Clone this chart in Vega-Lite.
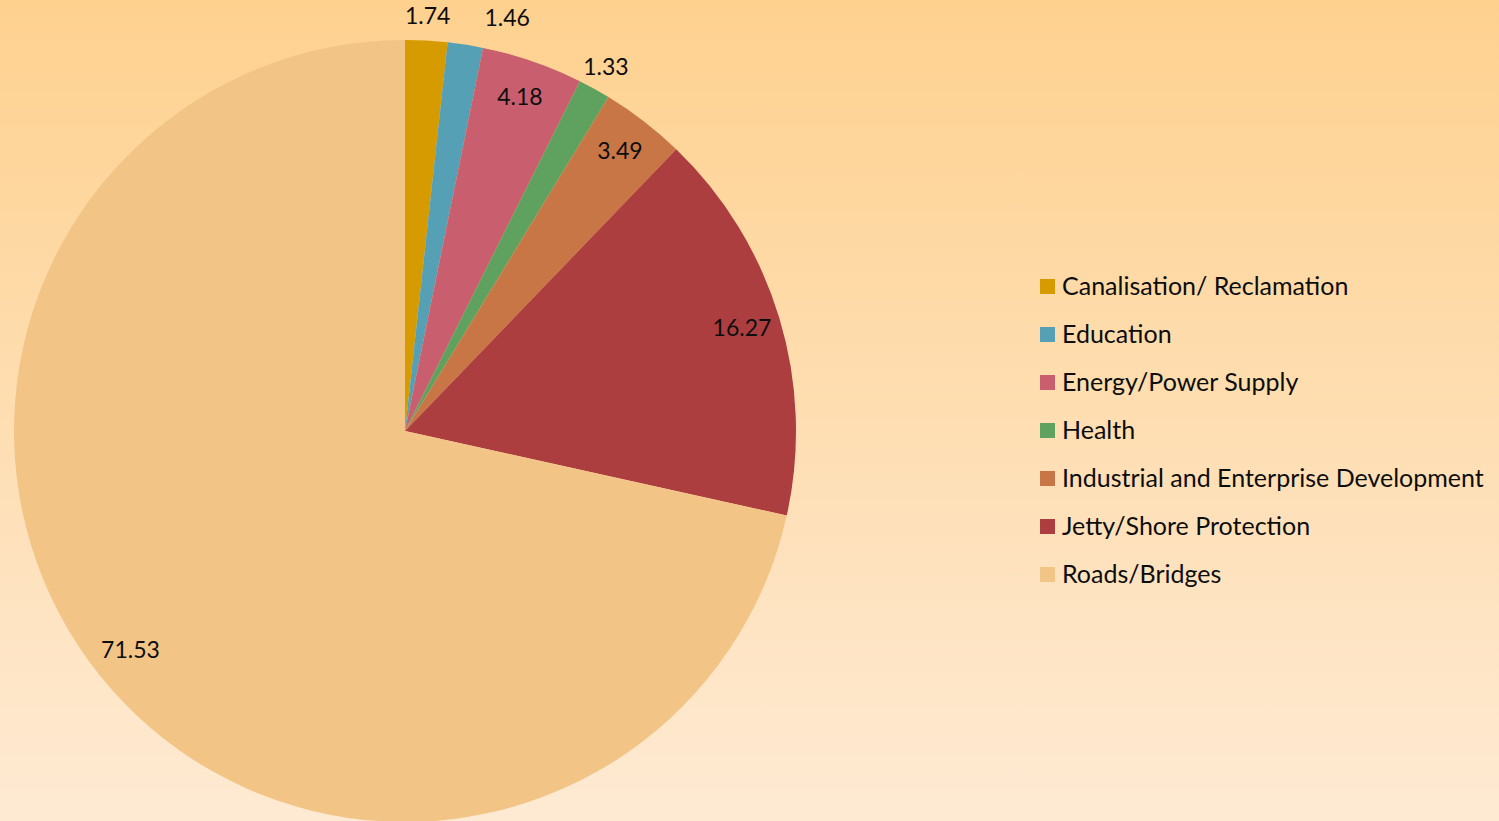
{
  "$schema": "https://vega.github.io/schema/vega-lite/v6.json",
  "padding": 0,
  "autosize": {"type": "pad"},
  "background": "#FFDDAF",
  "spacing": 0,
  "bounds": "flush",
  "data": {"values": [
    {"category": "Canalisation/ Reclamation", "value": 1.74},
    {"category": "Education", "value": 1.46},
    {"category": "Energy/Power Supply", "value": 4.18},
    {"category": "Health", "value": 1.33},
    {"category": "Industrial and Enterprise Development", "value": 3.49},
    {"category": "Jetty/Shore Protection", "value": 16.27},
    {"category": "Roads/Bridges", "value": 71.53}
  ]},
  "resolve": {"legend": {"color": "independent"}},
  "hconcat": [
    {
      "width": 810,
      "height": 862,
      "layer": [
        {
          "data": {"values": [{"bg": 1}]},
          "mark": {"type": "rect", "color": {"gradient": "linear", "x1": 0, "y1": 0, "x2": 0, "y2": 1,
            "stops": [{"offset": 0, "color": "#FED18F"}, {"offset": 0.952, "color": "#FEEAD3"}, {"offset": 1, "color": "#FEEBD5"}]}},
          "encoding": {}
        },
        {
          "mark": {"type": "arc", "outerRadius": 391},
          "encoding": {
            "theta": {"field": "value", "type": "quantitative", "stack": true},
            "order": {"field": "category", "type": "nominal", "sort": "ascending"},
            "color": {"field": "category", "type": "nominal",
              "scale": {"domain": ["Canalisation/ Reclamation", "Education", "Energy/Power Supply", "Health", "Industrial and Enterprise Development", "Jetty/Shore Protection", "Roads/Bridges"],
                        "range": ["#D59B00", "#55A0B5", "#C95F6E", "#5FA25F", "#C97647", "#AC3E40", "#F2C587"]},
              "legend": null}
          }
        },
        {
          "mark": {"type": "text", "radius": 352, "font": "Lato", "fontSize": 23, "color": "#0D0D0D", "align": "center", "baseline": "middle"},
          "encoding": {
            "theta": {"field": "value", "type": "quantitative", "stack": true},
            "order": {"field": "category", "type": "nominal", "sort": "ascending"},
            "detail": {"field": "category", "type": "nominal"},
            "text": {"condition": {"test": "datum.value > 2", "field": "value", "type": "quantitative", "format": ".2f"}, "value": ""}
          }
        },
        {
          "mark": {"type": "text", "radius": 415, "font": "Lato", "fontSize": 23, "color": "#0D0D0D", "align": "center", "baseline": "middle"},
          "encoding": {
            "theta": {"field": "value", "type": "quantitative", "stack": true},
            "order": {"field": "category", "type": "nominal", "sort": "ascending"},
            "detail": {"field": "category", "type": "nominal"},
            "text": {"condition": {"test": "datum.category == 'Canalisation/ Reclamation' || datum.category == 'Health'", "field": "value", "type": "quantitative", "format": ".2f"}, "value": ""}
          }
        },
        {
          "mark": {"type": "text", "radius": 415, "dx": 38, "dy": -2, "font": "Lato", "fontSize": 23, "color": "#0D0D0D", "align": "center", "baseline": "middle"},
          "encoding": {
            "theta": {"field": "value", "type": "quantitative", "stack": true},
            "order": {"field": "category", "type": "nominal", "sort": "ascending"},
            "detail": {"field": "category", "type": "nominal"},
            "text": {"condition": {"test": "datum.category == 'Education'", "field": "value", "type": "quantitative", "format": ".2f"}, "value": ""}
          }
        }
      ]
    },
    {
      "width": 689,
      "height": 862,
      "layer": [
        {
          "data": {"values": [{"bg": 1}]},
          "mark": {"type": "rect", "color": {"gradient": "linear", "x1": 0, "y1": 0, "x2": 0, "y2": 1,
            "stops": [{"offset": 0, "color": "#FED18F"}, {"offset": 0.952, "color": "#FEEAD3"}, {"offset": 1, "color": "#FEEBD5"}]}},
          "encoding": {}
        },
        {
          "mark": {"type": "square", "opacity": 0},
          "encoding": {
            "color": {"field": "category", "type": "nominal",
              "scale": {"domain": ["Canalisation/ Reclamation", "Education", "Energy/Power Supply", "Health", "Industrial and Enterprise Development", "Jetty/Shore Protection", "Roads/Bridges"],
                        "range": ["#D59B00", "#55A0B5", "#C95F6E", "#5FA25F", "#C97647", "#AC3E40", "#F2C587"]},
              "legend": {
                "orient": "none", "legendX": 225, "legendY": 274, "title": null,
                "labelFont": "Lato", "labelFontSize": 25, "labelColor": "#0D0D0D", "labelLimit": 700, "labelOffset": 2,
                "symbolType": "square", "symbolSize": 225, "symbolOpacity": 1, "symbolStrokeWidth": 0,
                "rowPadding": 22, "padding": 0
              }
            }
          }
        }
      ]
    }
  ],
  "config": {
    "view": {"stroke": null},
    "concat": {"spacing": 0}
  }
}
